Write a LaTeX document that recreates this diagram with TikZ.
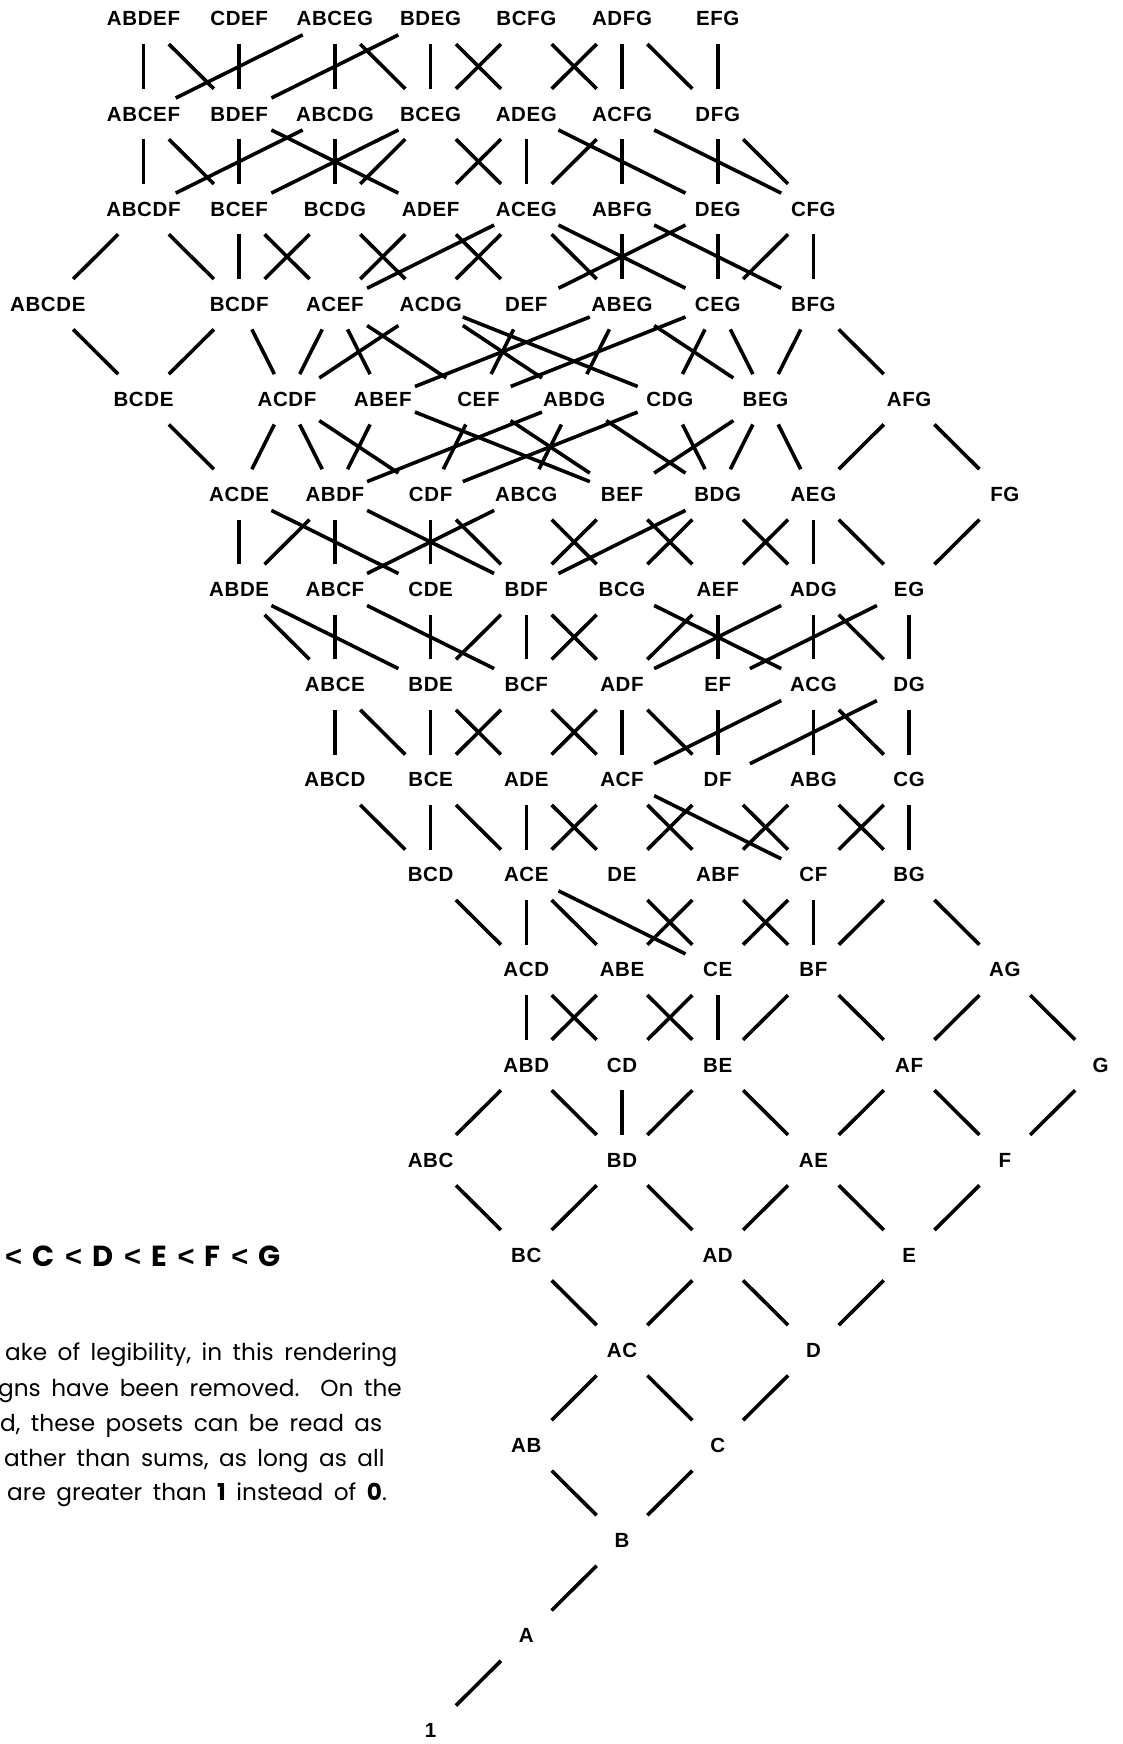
\documentclass[tikz,border=0pt]{standalone}
\usepackage{fontspec}
\newfontfamily\lblfont[LetterSpace=3]{Liberation Sans}
\newfontfamily\ltfont{Liberation Sans}
\newfontfamily\txtfont[WordSpace=0.65]{Poppins}
\newfontfamily\headfont[WordSpace=1.7]{Poppins}
\tikzset{
  elt/.style={rectangle,inner sep=0pt,minimum width=64pt,minimum height=50pt,
    font=\lblfont\bfseries\fontsize{20.5}{24}\selectfont},
  cov/.style={line width=3.6pt},
  txt/.style={anchor=base west,inner sep=0pt,font=\txtfont\fontsize{23.2}{27}\selectfont}
}
\begin{document}
\begin{tikzpicture}[x=1pt,y=1pt]
	% pas de la grille
	\def\dx{95.7} \def\dy{95.1} \def\xo{47.8} \def\yo{18.9}
	\useasboundingbox (0,0) rectangle (1123,-1744);
	\clip (0,0) rectangle (1123,-1744);
%
% Les sous-ensembles, rang 18 (ligne 0) jusqu'au rang 1 (ligne 17)
	\foreach \r/\lst in {
		0/{ABDEF/1,CDEF/2,ABCEG/3,BDEG/4,BCFG/5,ADFG/6,EFG/7},
		1/{ABCEF/1,BDEF/2,ABCDG/3,BCEG/4,ADEG/5,ACFG/6,DFG/7},
		2/{ABCDF/1,BCEF/2,BCDG/3,ADEF/4,ACEG/5,ABFG/6,DEG/7,CFG/8},
		3/{ABCDE/0,BCDF/2,ACEF/3,ACDG/4,DEF/5,ABEG/6,CEG/7,BFG/8},
		4/{BCDE/1,ACDF/2.5,ABEF/3.5,CEF/4.5,ABDG/5.5,CDG/6.5,BEG/7.5,AFG/9},
		5/{ACDE/2,ABDF/3,CDF/4,ABCG/5,BEF/6,BDG/7,AEG/8,FG/10},
		6/{ABDE/2,ABCF/3,CDE/4,BDF/5,BCG/6,AEF/7,ADG/8,EG/9},
		7/{ABCE/3,BDE/4,BCF/5,ADF/6,EF/7,ACG/8,DG/9},
		8/{ABCD/3,BCE/4,ADE/5,ACF/6,DF/7,ABG/8,CG/9},
		9/{BCD/4,ACE/5,DE/6,ABF/7,CF/8,BG/9},
		10/{ACD/5,ABE/6,CE/7,BF/8,AG/10},
		11/{ABD/5,CD/6,BE/7,AF/9,G/11},
		12/{ABC/4,BD/6,AE/8,F/10},
		13/{BC/5,AD/7,E/9},
		14/{AC/6,D/8},
		15/{AB/5,C/7},
		16/{B/6},
		17/{A/5}}{
		\foreach \n/\c in \lst {
			\node[elt] (\n) at ({\xo+\c*\dx},{-\yo-\r*\dy}) {\makebox[0pt]{\n}};
		};
	};
	\node[elt] (one) at ({\xo+4*\dx},{-\yo-18*\dy}) {\makebox[0pt]{1}};
%
% Relations de couverture
	\foreach \a/\b in {one/A, A/B, B/AB, B/C, AB/AC, C/AC, C/D, AC/BC, AC/AD, D/AD, D/E,
		BC/ABC, BC/BD, AD/BD, AD/AE, E/AE, E/F,
		ABC/ABD, BD/ABD, BD/CD, BD/BE, AE/BE, AE/AF, F/AF, F/G,
		ABD/ACD, ABD/ABE, CD/ACD, CD/CE, BE/ABE, BE/CE, BE/BF, AF/BF, AF/AG, G/AG,
		ACD/BCD, ACD/ACE, ABE/ACE, ABE/ABF, CE/ACE, CE/DE, CE/CF, BF/ABF, BF/CF, BF/BG, AG/BG,
		BCD/ABCD, BCD/BCE, ACE/BCE, ACE/ADE, ACE/ACF, DE/ADE, DE/DF, ABF/ACF, ABF/ABG,
		CF/ACF, CF/DF, CF/CG, BG/ABG, BG/CG,
		ABCD/ABCE, BCE/ABCE, BCE/BDE, BCE/BCF, ADE/BDE, ADE/ADF, ACF/BCF, ACF/ADF, ACF/ACG,
		DF/ADF, DF/EF, DF/DG, ABG/ACG, CG/ACG, CG/DG,
		ABCE/ABDE, ABCE/ABCF, BDE/ABDE, BDE/CDE, BDE/BDF, BCF/ABCF, BCF/BDF, BCF/BCG,
		ADF/BDF, ADF/AEF, ADF/ADG, EF/AEF, EF/EG, ACG/BCG, ACG/ADG, DG/ADG, DG/EG,
		ABDE/ACDE, ABDE/ABDF, ABCF/ABDF, ABCF/ABCG, CDE/ACDE, CDE/CDF, BDF/ABDF, BDF/CDF,
		BDF/BEF, BDF/BDG, BCG/ABCG, BCG/BDG, AEF/BEF, AEF/AEG, ADG/BDG, ADG/AEG, EG/AEG, EG/FG,
		ACDE/BCDE, ACDE/ACDF, ABDF/ACDF, ABDF/ABEF, ABDF/ABDG, CDF/ACDF, CDF/CEF, CDF/CDG,
		ABCG/ABDG, BEF/ABEF, BEF/CEF, BEF/BEG, BDG/ABDG, BDG/CDG, BDG/BEG, AEG/BEG, AEG/AFG, FG/AFG,
		BCDE/ABCDE, BCDE/BCDF, ACDF/BCDF, ACDF/ACEF, ACDF/ACDG, ABEF/ACEF, ABEF/ABEG,
		CEF/ACEF, CEF/DEF, CEF/CEG, ABDG/ACDG, ABDG/ABEG, CDG/ACDG, CDG/CEG,
		BEG/ABEG, BEG/CEG, BEG/BFG, AFG/BFG,
		ABCDE/ABCDF, BCDF/ABCDF, BCDF/BCEF, BCDF/BCDG, ACEF/BCEF, ACEF/ADEF, ACEF/ACEG,
		ACDG/BCDG, ACDG/ACEG, DEF/ADEF, DEF/DEG, ABEG/ACEG, ABEG/ABFG, CEG/ACEG, CEG/DEG,
		CEG/CFG, BFG/ABFG, BFG/CFG,
		ABCDF/ABCEF, ABCDF/ABCDG, BCEF/ABCEF, BCEF/BDEF, BCEF/BCEG, BCDG/ABCDG, BCDG/BCEG,
		ADEF/BDEF, ADEF/ADEG, ACEG/BCEG, ACEG/ADEG, ACEG/ACFG, ABFG/ACFG, DEG/ADEG, DEG/DFG,
		CFG/ACFG, CFG/DFG,
		ABCEF/ABDEF, ABCEF/ABCEG, BDEF/ABDEF, BDEF/CDEF, BDEF/BDEG, ABCDG/ABCEG,
		BCEG/ABCEG, BCEG/BDEG, BCEG/BCFG, ADEG/BDEG, ADEG/ADFG, ACFG/BCFG, ACFG/ADFG,
		DFG/ADFG, DFG/EFG}{
		\draw[cov] (\a) -- (\b);
	};
%
% Texte de gauche (coupe au bord)
	\node[anchor=base west,inner sep=0pt,font=\headfont\bfseries\fontsize{29}{33}\selectfont] (ordre) at (5,-1266.7)
		{{\ltfont<} C {\ltfont<} D {\ltfont<} E {\ltfont<} F {\ltfont<} G};
	\node[txt] (l1) at (5,-1360) {ake of legibility, in this rendering};
	\node[txt] (l2) at (-2,-1396.7) {gns have been removed.\ \ On the};
	\node[txt] (l3) at (0,-1431.7) {d, these posets can be read as};
	\node[txt] (l4) at (4,-1466) {ather than sums, as long as all};
	\node[txt] (l5) at (7,-1500) {are greater than \textbf{1} instead of \textbf{0}.};

\end{tikzpicture}
\end{document}
